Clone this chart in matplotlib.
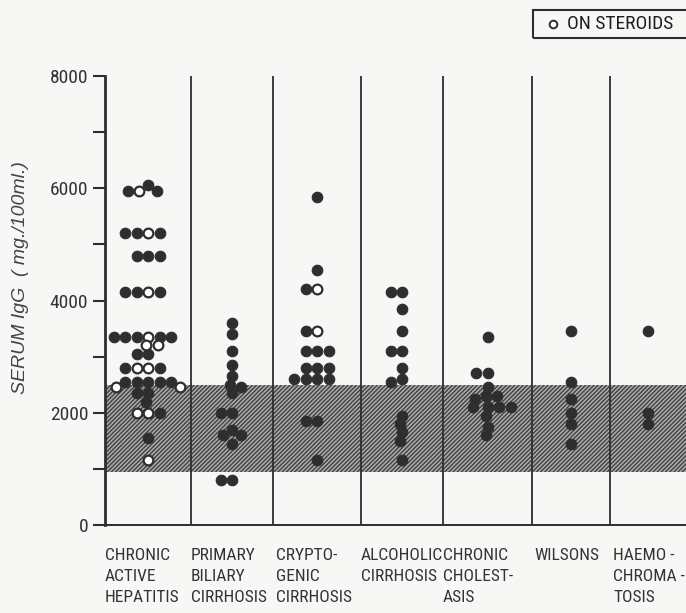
import numpy as np
import matplotlib.pyplot as plt
from matplotlib.patches import Rectangle
from matplotlib.lines import Line2D

narrow = ['Roboto Condensed', 'DejaVu Sans Condensed', 'Liberation Sans', 'DejaVu Sans']
plt.rcParams['font.family'] = narrow
plt.rcParams['hatch.linewidth'] = 0.9

# categories (one column per diagnosis)
categories = ["CHRONIC\nACTIVE\nHEPATITIS", "PRIMARY\nBILIARY\nCIRRHOSIS",
              "CRYPTO-\nGENIC\nCIRRHOSIS", "ALCOHOLIC\nCIRRHOSIS",
              "CHRONIC\nCHOLEST-\nASIS", "WILSONS", "HAEMO -\nCHROMA -\nTOSIS"]

# serum IgG values (mg/100ml), patients not on steroids
filled = [
    [6050, 5950, 5950, 5200, 5200, 5200, 4800, 4800, 4800, 4150, 4150, 4150,
     3350, 3350, 3350, 3350, 3350, 3050, 3050, 2800, 2800,
     2550, 2550, 2550, 2550, 2550, 2350, 2350, 2200, 2000, 1550],
    [3600, 3400, 3100, 2850, 2650, 2500, 2450, 2350, 2000, 2000,
     1700, 1600, 1600, 1450, 800, 800],
    [5850, 4550, 4200, 3450, 3100, 3100, 3100, 2800, 2800, 2800,
     2600, 2600, 2600, 2600, 1850, 1850, 1150],
    [4150, 4150, 3850, 3450, 3100, 3100, 2800, 2600, 2550,
     1950, 1800, 1650, 1500, 1150],
    [3350, 2700, 2700, 2450, 2300, 2300, 2250, 2100, 2100, 2100, 2100,
     1950, 1750, 1600],
    [3450, 2550, 2250, 2000, 1800, 1450],
    [3450, 2000, 1800],
]

# patients on steroids (open circles)
steroids = [
    [5950, 5200, 4150, 3350, 3200, 3200, 2800, 2800, 2450, 2450, 2000, 2000, 1150],
    [],
    [4200, 3450],
    [], [], [], [],
]

band_low, band_high = 950, 2500
yticks_major = [0, 2000, 4000, 6000, 8000]
yticks_minor = [1000, 3000, 5000, 7000]

# layout (pixel-like units along x, measured from the y axis)
edges = [0, 86, 168, 256, 338, 427, 505, 581]
label_off = [0, 0, 3, 0, 0, 2, 3]
W, H = 686, 613
X0 = 105
ink = '#2e2e2e'
paper = '#f7f7f5'

fig = plt.figure(figsize=(W / 100, H / 100), dpi=100, facecolor=paper)
ax = fig.add_axes([X0 / W, 88 / H, 581 / W, 449 / H])
ax.set_facecolor(paper)
ax.set_xlim(0, 581)
ax.set_ylim(0, 8000)
yscale = 449 / 8000


def swarm(values, center, w=11.5, h=8.5):
    values = np.asarray(values, dtype=float)
    xs = np.zeros(len(values))
    placed = []
    for i in np.argsort(-values, kind='stable'):
        y = values[i] * yscale
        bad = []
        for px, py in placed:
            dy = abs(py - y)
            if dy < h:
                half = w * np.sqrt(1 - (dy / h) ** 2)
                bad.append((px - half, px + half))
        cands = sorted([0.0] + [e for b in bad for e in b], key=abs)
        for c in cands:
            if all(not (lo + 1e-6 < c < hi - 1e-6) for lo, hi in bad):
                break
        xs[i] = center + c
        placed.append((c, y))
    return xs


# normal range band
ax.axhspan(band_low, band_high, facecolor='#a8a8a8', edgecolor='#3a3a3a',
           hatch='////////', linewidth=0, zorder=0)

# column dividers
for e in edges[1:-1]:
    ax.axvline(e, color=ink, lw=1.3, zorder=1)

for k in range(len(categories)):
    center = (edges[k] + edges[k + 1]) / 2
    # steroid patients first so they land near the middle of their rows
    vals = steroids[k] + filled[k]
    kind = [1] * len(steroids[k]) + [0] * len(filled[k])
    xs = swarm(vals, center)
    kind = np.array(kind)
    vals = np.array(vals)
    ax.plot(xs[kind == 0], vals[kind == 0], 'o', ms=7.6, mfc=ink, mec=ink,
            mew=0.8, ls='none', zorder=3)
    if (kind == 1).any():
        ax.plot(xs[kind == 1], vals[kind == 1], 'o', ms=7.0, mfc='white', mec=ink,
                mew=1.6, ls='none', zorder=4)

# axes styling
for s in ['top', 'right']:
    ax.spines[s].set_visible(False)
ax.spines['left'].set_linewidth(2.0)
ax.spines['left'].set_color(ink)
ax.spines['bottom'].set_linewidth(1.4)
ax.spines['bottom'].set_color(ink)
ax.set_xticks([])
ax.set_yticks(yticks_major)
ax.set_yticks(yticks_minor, minor=True)
ax.set_yticklabels([str(v) for v in yticks_major])
ax.tick_params(axis='y', which='both', direction='out', length=9, width=1.5,
               color=ink, labelsize=14, labelcolor='#333333', pad=3)

fig.text(21 / W, 1 - 278 / H, "SERUM IgG  ( mg./100ml.)", rotation=90,
         ha='center', va='center', fontsize=14, style='italic',
         family=['Liberation Sans', 'DejaVu Sans'], color='#444444')

# category labels, left-aligned at each column's left edge
for name, e, off in zip(categories, edges[:-1], label_off):
    fig.text((X0 + e + off) / W, 1 - 548 / H, name, ha='left', va='top',
             fontsize=12.5, linespacing=1.5, color='#333333')

# legend box
fig.add_artist(Rectangle((533 / W, 1 - 38 / H), 160 / W, 28 / H,
                         transform=fig.transFigure, facecolor='none',
                         edgecolor=ink, lw=1.5, clip_on=False))
fig.add_artist(Line2D([553 / W], [1 - 24 / H], marker='o', ms=5.5, mfc='white',
                      mec=ink, mew=1.4, transform=fig.transFigure))
fig.text(567 / W, 1 - 24 / H, "ON STEROIDS", ha='left', va='center',
         fontsize=14, color='#1e1e1e')

fig.savefig('out.png', dpi=100, facecolor=paper)
